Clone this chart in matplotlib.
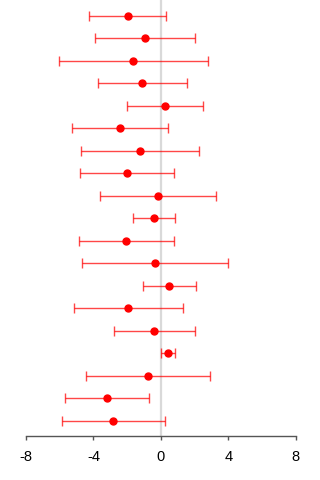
import matplotlib
matplotlib.use("Agg")
import matplotlib.pyplot as plt

plt.rcParams['font.family'] = ['Liberation Sans', 'DejaVu Sans']

# Effect estimates with lower / upper interval bounds, top row first
estimate = [-1.96, -0.96, -1.63, -1.10, 0.23, -2.44, -1.25, -2.00, -0.17, -0.40,
            -2.05, -0.34, 0.50, -1.93, -0.38, 0.43, -0.74, -3.17, -2.82]
lower = [-4.26, -3.90, -6.04, -3.72, -1.99, -5.29, -4.75, -4.77, -3.62, -1.63,
         -4.83, -4.65, -1.04, -5.13, -2.78, 0.00, -4.42, -5.66, -5.84]
upper = [0.33, 2.01, 2.78, 1.55, 2.48, 0.43, 2.25, 0.80, 3.27, 0.86,
         0.76, 3.97, 2.09, 1.32, 2.01, 0.86, 2.94, -0.68, 0.23]
xticks = [-8, -4, 0, 4, 8]

fig = plt.figure(figsize=(3.2, 4.8), dpi=100)
ax = fig.add_axes([26 / 320, 44 / 480, (295.7 - 26) / 320, 436 / 480])

rows = list(range(len(estimate)))
ax.axvline(0, color='#d9d9d9', lw=1.6, zorder=1)

err_lo = [e - l for e, l in zip(estimate, lower)]
err_hi = [u - e for e, u in zip(estimate, upper)]
ax.errorbar(estimate, rows, xerr=[err_lo, err_hi], fmt='o', color='red',
            ecolor=(1, 0, 0, 0.72), elinewidth=1.0, capsize=3.6, capthick=1.0,
            markersize=5, zorder=3)

ax.set_xlim(-8, 8)
ax.set_ylim((436 - 16) / 22.48, -16 / 22.48)
ax.set_xticks(xticks)
ax.set_xticklabels([str(t) for t in xticks])
ax.set_yticks([])
for s in ('top', 'right', 'left'):
    ax.spines[s].set_visible(False)
ax.spines['bottom'].set_color('#555555')
ax.spines['bottom'].set_linewidth(1.0)
ax.tick_params(axis='x', colors='#555555', length=3, width=1.0,
               labelcolor='black', labelsize=10.5, pad=7)

fig.savefig('out.png', dpi=100)
